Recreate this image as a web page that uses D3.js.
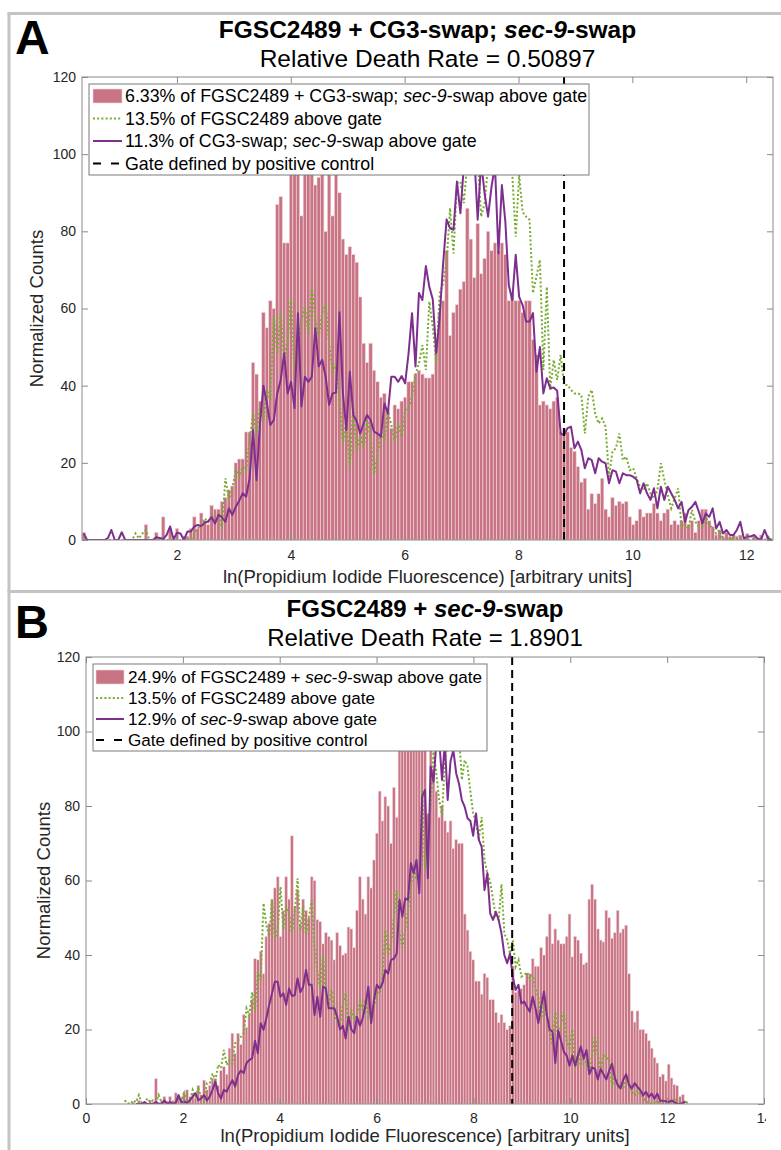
<!DOCTYPE html>
<html>
<head>
<meta charset="utf-8">
<script src="https://cdn.jsdelivr.net/npm/d3@7"></script>
<style>
  body { margin: 0; background: #fff; }
  svg { display: block; font-family: "Liberation Sans", Arial, Helvetica, sans-serif; }
  text { white-space: pre; }
</style>
</head>
<body>
<svg id="fig" width="781" height="1150"></svg>
<script>
// ---------- Panel A: FGSC2489 + CG3-swap; sec-9-swap ----------
const binStartA = 0.333, binWidthA = 0.0607;
const barsA = [
  2,0,0,0,0,0,0,0,0,0,
  0,0,0,0,0,0,0,0,4,0,
  0,2,0,6,0,3,0,3,0,1,
  1,3,6,3,7,5,4,9,8,8,
  10,11,13,14,20,21,21,28,28,46,
  43,36,59,55,62,60,87,89,77,77,
  97,96,98,84,100,98,99,92,94,96,
  80,97,84,96,90,78,74,76,74,72,
  63,51,46,51,44,41,37,38,34,29,
  35,34,36,37,41,41,43,44,43,42,
  42,43,50,59,62,75,53,59,61,65,
  67,86,78,68,82,69,73,80,75,77,
  75,77,74,62,64,62,62,59,62,62,
  52,48,35,36,35,34,36,37,28,29,
  28,24,23,19,15,16,8,12,9.5,12,
  16,8,6,11,9,10,9.5,10,6,4,
  5,8,6,7,7,9.5,7,5,7,8,
  4,5,4,5,7,4,5,2,5,8,
  8,5,3.5,1.3,2.6,1,2,1,1.5,1,
  1.3,0,1.7,0,0.9,0,1.3,0,1,0
];
const wildTypeA = [
  0,0,0,0,0,0,0,0,0,0,
  0,0,0,0,0,1.7,0.4,1.7,2.6,0,
  0,0,0,0,0,0,0,0,0,0,
  0,0,1.7,3,4,5.6,4.7,6,6,6.9,
  3,16,10.4,13.4,18.1,16.4,19,18.1,25.9,32.8,
  27.6,34.6,31.1,38.9,36.3,58,48.4,58.8,46.7,51.8,
  63,42.3,51,57,60.5,53.6,65.7,57,52.7,58.8,
  61,51,43.6,45.8,36.3,25,31.1,19,34.6,22.9,
  27.2,23.8,31.1,26.8,17,22,28.1,25.9,33.7,29.8,
  25.5,30.2,26.8,33.7,34.2,37.2,42.8,45.8,50.5,44.1,
  61.8,55.3,45.8,63.9,66.5,72.1,86,74.3,92.5,92.9,
  87.3,98,100,97,99,83.8,87.3,97,100,98,
  99,97,100,96,95,78.6,94.6,85,83.8,83,
  64,68.3,72.6,44.1,65.6,38.9,46.7,41.5,48,40.2,
  40.2,38.9,38,38,37.6,27.6,37.2,38.9,32.8,30.2,
  31.5,29.4,16.4,22.9,23.8,27.6,20.7,21.6,18.1,18.6,
  16,13.8,12.9,14.7,12.1,10.8,12.9,19.9,15.6,11.7,
  8.2,10.8,13.4,3.5,3.9,3,7.8,4.7,3.5,3.5,
  6,3.9,3,1.7,2.6,0,0.4,0,0.9,0,
  0,0.4,0,0,0.4,0,0,0,0.9,0
];
const mutantA = [
  1.7,0,0,0,0,0,0,0.5,2.6,0,
  0,2,0,0,0,0,0,0,0,0,
  0,0.7,0.5,0.2,1.3,3.5,0.2,1.9,1.7,0,
  2.2,2.2,3.5,3.9,3.6,4.5,4.8,5.9,4.3,6.5,
  5.9,4.7,8.2,6.5,8.6,10.2,12.1,11.2,16,28.5,
  15.5,30,40,35.4,29.8,31.1,38,41.5,48.4,38,
  41,34.2,58.8,34.6,42.3,41,42.3,54.9,45,46.7,
  42.3,35,38,38.2,59,38,28.5,43.6,32.4,30.8,
  27.6,30.2,32.4,31.1,28.1,27.6,26.8,35.4,32.8,42.3,
  42.3,41,42.5,40.6,48.4,58.8,45,64,62.2,71,
  65.6,62.4,48.4,57.9,71.7,83.1,80.8,80.4,92.9,84.7,
  97,99,96,100,83,98,89.8,83.8,91.6,97,
  74.3,92,82.5,66,62.2,73.9,63,60.9,56.6,56.6,
  58.8,43.6,50,38,41.9,39.3,39.5,38.7,27.6,27.2,
  29,29.4,23.8,25.5,23.3,18.6,21.2,20.7,17.3,21.2,
  20.3,19.9,14.7,18.1,17.7,14.7,17.3,16.8,16.8,16.4,
  15.6,12.1,14.7,12.1,10.4,13.4,8.2,13.8,10.4,13.8,
  12.1,10.4,8.2,9.9,4.7,7.8,8.6,9.9,7.3,4.3,
  6.9,6,8.2,3,4.7,1.7,2.6,1.3,1.3,2.6,
  4.7,0.4,0.9,0.9,1.3,0.4,0,2.6,0.4,0
];
const ticksXA = [2, 4, 6, 8, 10, 12];
const titleA = "FGSC2489 + CG3-swap; {sec}-{9}-swap";
const rateA = "Relative Death Rate = 0.50897";
const legendA = [
  "6.33% of FGSC2489 + CG3-swap; {sec}-{9}-swap above gate",
  "13.5% of FGSC2489 above gate",
  "11.3% of CG3-swap; {sec}-{9}-swap above gate",
  "Gate defined by positive control"
];

// ---------- Panel B: FGSC2489 + sec-9-swap ----------
const binStartB = 0.77, binWidthB = 0.0585;
const barsB = [
  0,0,0,0.5,0,1,0,0.5,0,1,
  0.5,6.8,0.5,1,2,0.8,2,1,3,2,
  1.5,3,3.8,2,2.9,1.5,5,2.5,6.4,3.8,
  5,6.9,6.9,5,9,10,8,15,19,13.6,
  19,16,24,20.6,24,28,39,38.7,41,35,
  45,48.5,55,58,61,45,52,61,55,72,
  53,57.5,48.5,55,52,50,61,60,49.5,49,
  43,46,45,44,38.7,46,42.5,40,40.5,47.5,
  47,42,52,61,55,51,61,58,65.5,72.7,
  84,76,82.5,80,70,85,77,95,97,100,
  96,98,99,97,100,96,98,78,96,90,
  84,77,80,76,73,76,68.6,71,70,70,
  51,46.7,41,38.7,33,33,29.5,35,34,28,
  28,24.6,21.9,24,21.9,20,21,37,30,30.5,
  31,32,35,35,39,37,37,42,40,45,
  51,43,47,44,43,43,45,51,39.5,45,
  44,40.5,37.5,38,55,59,55,47,44,43.5,
  52,50,44.5,46,52,46,47,48,35,25,
  22,25,20,20,19,17,15,12.5,11,7.3,
  8,6.2,10.7,7,5.2,4.9,2,2.5,0,0
];
const wildTypeB = [
  1,0.2,0,1,0.5,2.4,0.2,0.2,1.5,0.5,
  1,0.5,2.4,0.5,0.2,0,0,0.5,0,2,
  1,3,0.6,0.6,3.8,2,4.2,2,1,5.5,
  5.5,8.2,6.4,10.5,9.6,14.5,10.5,11.8,10.9,16.3,
  17,18,19,25.7,23.9,30,25,35.5,33.3,53.9,
  48,45,54.8,44.5,46.7,58.3,47,53,51,45.8,
  51.2,60.6,46.7,53,45.4,50,54.8,41.8,35.8,31,
  40,29.5,26.4,30.6,24.4,22,20.8,27,29.7,19.9,
  25.3,22.6,24,27.5,25.3,28.3,23.4,25.3,26,30.2,
  29.7,34,46.7,40,43.1,50,57.4,45.8,42,46.7,
  52,58.3,63.7,60.1,62,84.3,62.8,72.7,80,94.6,
  88.8,81.6,77.6,92,97,98,97,97,99,87,
  92.3,90.6,84,78,75.8,70.9,77,65.5,62,59.7,
  55,50.3,49.4,59,45.8,44,40.4,44,36.9,38.7,
  34.2,34.6,35.4,33.7,34.6,31,28.8,22.6,26.6,23,
  19,15.9,24.8,17.7,21.3,24.8,16.9,15,20.1,9.4,
  14,10.3,12.6,10.8,8.4,13.1,18.3,13.1,8.9,13.1,
  12.2,12.2,4.7,7.5,5.6,4.2,4.2,7.5,5.6,3.3,
  2.3,3.7,2.6,1.9,0.5,0.5,0,0.4,0.7,0.3,
  0,0.3,0.9,0.5,1.4,0.9,0.5,0.2,0,0.9
];
const mutantB = [
  null,null,null,null,0,0,0,0.5,0,0,
  0,0.5,0,0,1,0,0.5,0,0.3,2.4,
  0.5,0.6,0.3,1,2,2.9,1,1.5,2.4,1,
  2,3.8,6,2.9,1.5,3.8,3.3,5,6.4,4.7,
  7.8,9,8.3,11,11.8,12.3,17,13.6,21.7,19.9,
  23,26.6,29.7,32.8,32.8,28.8,29.7,26.6,31,29,
  29.2,33.7,30,31.5,36,32,32,23.9,28.8,23.4,
  31.5,31,25.7,25.7,25.7,23.4,20,21,17.6,23.4,
  20,19,23.4,21,23,26.6,31.5,21.7,28,32,
  31,32.4,36,35,38.7,39,40.4,54.8,50.3,55.2,
  54.8,64.6,62,65.5,56.6,82.5,84.3,60.6,90.6,86.5,
  97,98,87,97,81.6,92,95,88.8,86,81.6,
  79.8,76.7,76,72,78,70.9,69,57.4,62,51.2,
  49.4,51.6,49.4,45.8,40,37.8,40.4,34,30.6,32,
  27,27.5,26,24.8,28.8,25.7,21.7,26,30.2,23.9,
  20,19.4,11,19.7,17,14,13,10.3,13,10.3,
  13,15.4,12.2,14.5,8,9.8,9.4,6.6,9.4,8,
  6.6,8.9,10.8,7,5.1,4.2,6.6,8,5.1,4.2,
  5.6,4.6,3.7,2.3,3.3,1.9,2.8,1.4,2.8,0.9,
  0.9,0.7,0.5,0.9,0.5,0,0,0.3,0.7,null
];
const ticksXB = [0, 2, 4, 6, 8, 10, 12, 14];
const titleB = "FGSC2489 + {sec}-{9}-swap";
const rateB = "Relative Death Rate = 1.8901";
const legendB = [
  "24.9% of FGSC2489 + {sec}-{9}-swap above gate",
  "13.5% of FGSC2489 above gate",
  "12.9% of {sec}-{9}-swap above gate",
  "Gate defined by positive control"
];

// ---------- shared ----------
const gateValue = 8.8;
const ticksY = [0, 20, 40, 60, 80, 100, 120];
const yLabel = "Normalized Counts";
const xLabel = "ln(Propidium Iodide Fluorescence) [arbitrary units]";

const barFill = "#c87484", barEdge = "#f1d9de";
const green = "#77ac30", purple = "#7e2f8e";
const axisGrey = "#8a8a8a", tickText = "#262626";

const svg = d3.select("#fig");
const defs = svg.append("defs");

// writes a string into a <text>, {…} segments set in italic
function rich(sel, str) {
  str.split(/(\{[^}]*\})/).filter(s => s.length).forEach(s => {
    const it = s.startsWith("{");
    sel.append("tspan")
      .attr("font-style", it ? "italic" : null)
      .text(it ? s.slice(1, -1) : s);
  });
}

function drawPanel(p) {
  const root = svg.append("g");
  if (p.clipRight) {
    defs.append("clipPath").attr("id", "fig" + p.key)
      .append("rect").attr("x", 0).attr("y", p.top - 100).attr("width", p.clipRight).attr("height", 700);
    root.attr("clip-path", `url(#fig${p.key})`);
  }
  const x = d3.scaleLinear().domain(p.xDomain).range([p.left, p.right]);
  const y = d3.scaleLinear().domain([0, 120]).range([p.bottom, p.top]);

  // panel letter, title, subtitle
  root.append("text").attr("x", p.letterX).attr("y", p.letterY)
    .attr("font-size", p.letterSize).attr("font-weight", "bold").text(p.letter);
  const cx = (p.left + p.right) / 2;
  const t1 = root.append("text").attr("x", cx).attr("y", p.titleY)
    .attr("text-anchor", "middle").attr("font-size", p.titleSize).attr("font-weight", "bold");
  rich(t1, p.title);
  root.append("text").attr("x", cx).attr("y", p.rateY)
    .attr("text-anchor", "middle").attr("font-size", p.titleSize).text(p.rate);

  // plot area
  defs.append("clipPath").attr("id", "plot" + p.key)
    .append("rect").attr("x", p.left).attr("y", p.top)
    .attr("width", p.right - p.left).attr("height", p.bottom - p.top);
  const plot = root.append("g").attr("clip-path", `url(#plot${p.key})`);

  const edge = i => p.binStart + i * p.binWidth;
  plot.append("g").selectAll("rect").data(p.bars).join("rect")
    .attr("x", (d, i) => x(edge(i)))
    .attr("width", x(edge(1)) - x(edge(0)))
    .attr("y", d => y(d))
    .attr("height", d => y(0) - y(d))
    .attr("fill", barFill).attr("stroke", barEdge).attr("stroke-width", 0.6);

  const line = d3.line()
    .defined(d => d[1] != null)
    .x(d => x(d[0])).y(d => y(d[1]));
  const centred = arr => arr.map((v, i) => [edge(i) + p.binWidth / 2, v]);

  plot.append("path").datum(centred(p.wild))
    .attr("d", line).attr("fill", "none").attr("stroke", green)
    .attr("stroke-width", 2).attr("stroke-dasharray", "2,2.2");
  plot.append("path").datum(centred(p.mutant))
    .attr("d", line).attr("fill", "none").attr("stroke", purple)
    .attr("stroke-width", 2).attr("stroke-linejoin", "round");
  plot.append("line")
    .attr("x1", x(gateValue)).attr("x2", x(gateValue))
    .attr("y1", y(120)).attr("y2", y(0))
    .attr("stroke", "#000").attr("stroke-width", 2).attr("stroke-dasharray", "8,5");

  // axes box with inward ticks on all four sides
  const styleAxis = g => {
    g.select(".domain").remove();
    g.selectAll(".tick line").attr("stroke", axisGrey);
    g.selectAll(".tick text").attr("fill", tickText).attr("font-size", 14)
      .attr("font-family", "Liberation Sans, Arial, sans-serif");
  };
  root.append("g").attr("transform", `translate(0,${p.bottom})`)
    .call(d3.axisBottom(x).tickValues(p.ticksX).tickFormat(d3.format("d")).tickSize(-6).tickPadding(p.xPad))
    .call(styleAxis);
  root.append("g").attr("transform", `translate(0,${p.top})`)
    .call(d3.axisTop(x).tickValues(p.ticksX).tickFormat("").tickSize(-6))
    .call(styleAxis);
  root.append("g").attr("transform", `translate(${p.left},0)`)
    .call(d3.axisLeft(y).tickValues(ticksY).tickSize(-6).tickPadding(6))
    .call(styleAxis);
  root.append("g").attr("transform", `translate(${p.right},0)`)
    .call(d3.axisRight(y).tickValues(ticksY).tickFormat("").tickSize(-6))
    .call(styleAxis);
  root.append("rect")
    .attr("x", p.left).attr("y", p.top)
    .attr("width", p.right - p.left).attr("height", p.bottom - p.top)
    .attr("fill", "none").attr("stroke", axisGrey).attr("stroke-width", 1);

  // axis titles
  root.append("text").attr("x", cx).attr("y", p.xLabelY)
    .attr("text-anchor", "middle").attr("font-size", p.labelSize).attr("fill", tickText).text(xLabel);
  root.append("text")
    .attr("transform", `translate(${p.yLabelX},${(p.top + p.bottom) / 2}) rotate(-90)`)
    .attr("text-anchor", "middle").attr("dy", "0.35em")
    .attr("font-size", p.labelSize).attr("fill", tickText).text(yLabel);

  // legend
  const L = p.legend;
  const lg = root.append("g");
  lg.append("rect").attr("x", L.x).attr("y", L.y).attr("width", L.w).attr("height", L.h)
    .attr("fill", "#fff").attr("stroke", "#7a7a7a").attr("stroke-width", 1);
  const rowY = i => L.y + L.first + i * L.step;
  const sx0 = L.x + L.sample[0], sx1 = L.x + L.sample[1];
  lg.append("rect").attr("x", sx0).attr("y", rowY(0) - 7).attr("width", sx1 - sx0).attr("height", 14)
    .attr("fill", barFill).attr("stroke", barEdge).attr("stroke-width", 0.6);
  lg.append("line").attr("x1", sx0).attr("x2", sx1).attr("y1", rowY(1)).attr("y2", rowY(1))
    .attr("stroke", green).attr("stroke-width", 2).attr("stroke-dasharray", "2,2.2");
  lg.append("line").attr("x1", sx0).attr("x2", sx1).attr("y1", rowY(2)).attr("y2", rowY(2))
    .attr("stroke", purple).attr("stroke-width", 2);
  lg.append("line").attr("x1", sx0).attr("x2", sx1).attr("y1", rowY(3)).attr("y2", rowY(3))
    .attr("stroke", "#000").attr("stroke-width", 2).attr("stroke-dasharray", "8,10");
  p.legendText.forEach((s, i) => {
    const t = lg.append("text").attr("x", L.x + L.textX).attr("y", rowY(i))
      .attr("dy", "0.35em").attr("font-size", L.size);
    rich(t, s);
  });
}

drawPanel({
  key: "A", letter: "A", letterX: 15, letterY: 54, letterSize: 48,
  title: titleA, rate: rateA, titleY: 38, rateY: 67, titleSize: 24.5,
  xDomain: [0.333, 12.47], left: 82, right: 773, top: 77, bottom: 540,
  binStart: binStartA, binWidth: binWidthA,
  bars: barsA, wild: wildTypeA, mutant: mutantA,
  ticksX: ticksXA, xPad: 10, xLabelY: 583, yLabelX: 37, labelSize: 18.5,
  legend: { x: 89, y: 84, w: 500, h: 91, first: 12, step: 22.5, sample: [4, 33], textX: 36, size: 17.8 },
  legendText: legendA
});

drawPanel({
  key: "B", letter: "B", letterX: 15, letterY: 638, letterSize: 47,
  title: titleB, rate: rateB, titleY: 617, rateY: 646, titleSize: 24,
  xDomain: [0, 14], left: 86, right: 764, top: 657, bottom: 1104,
  binStart: binStartB, binWidth: binWidthB,
  bars: barsB, wild: wildTypeB, mutant: mutantB,
  ticksX: ticksXB, xPad: 9, xLabelY: 1142, yLabelX: 44, labelSize: 18.5,
  legend: { x: 93, y: 664, w: 394, h: 87, first: 13, step: 21, sample: [3, 31], textX: 35, size: 17.1 },
  legendText: legendB, clipRight: 766
});

// grey panel frames
const frame = svg.append("g").attr("stroke", "#c4c4c4").attr("stroke-width", 3).attr("fill", "none");
frame.append("line").attr("x1", 7.5).attr("x2", 781).attr("y1", 13.5).attr("y2", 13.5);
frame.append("line").attr("x1", 9).attr("x2", 9).attr("y1", 12).attr("y2", 1150);
frame.append("line").attr("x1", 7.5).attr("x2", 781).attr("y1", 591.5).attr("y2", 591.5);
</script>
</body>
</html>
